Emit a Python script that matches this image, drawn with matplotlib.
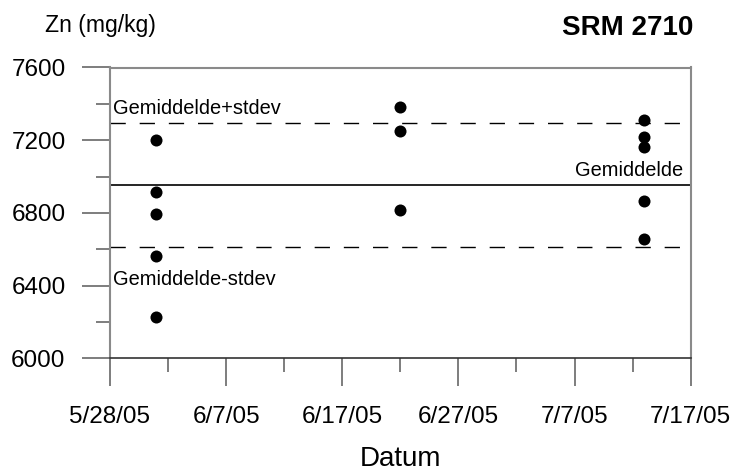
import matplotlib
matplotlib.use("Agg")
import matplotlib.pyplot as plt
from matplotlib.ticker import MultipleLocator
import datetime as dt

plt.rcParams['font.family'] = ['Liberation Sans', 'DejaVu Sans']

# Data
dates = ["2005-06-01"] * 5 + ["2005-06-22"] * 3 + ["2005-07-13"] * 5
zn = [7200, 6917, 6792, 6565, 6229,
      7384, 7251, 6816,
      7311, 7216, 7164, 6867, 6656]
mean_val = 6952
stdev_val = 341
x_start, x_end = "2005-05-28", "2005-07-17"
y_min, y_max = 6000, 7600

to_dt = lambda s: dt.datetime.strptime(s, "%Y-%m-%d")
xd = [to_dt(d) for d in dates]
x0, x1 = to_dt(x_start), to_dt(x_end)

fig = plt.figure(figsize=(7.34, 4.72), dpi=100)
ax = fig.add_axes([110 / 734, 1 - 358.3 / 472, 580.7 / 734, 290.8 / 472])

ax.scatter(xd, zn, s=75, color='black', zorder=3, linewidths=0)
ax.axhline(mean_val, color='black', lw=1.2)
ax.axhline(mean_val + stdev_val, color='black', lw=1.0, ls=(0, (11, 10)))
ax.axhline(mean_val - stdev_val, color='black', lw=1.0, ls=(0, (11, 10)))

ax.set_xlim(x0, x1)
ax.set_ylim(y_min, y_max)

major_dates = [x0 + dt.timedelta(days=10 * i) for i in range(6)]
ax.set_xticks(major_dates)
ax.set_xticklabels([f"{d.month}/{d.day}/{d.strftime('%y')}" for d in major_dates])
ax.set_xticks([x0 + dt.timedelta(days=5 + 10 * i) for i in range(5)], minor=True)
ax.yaxis.set_major_locator(MultipleLocator(400))
ax.yaxis.set_minor_locator(MultipleLocator(200))

gray = '#8a8a8a'
for k in ['left', 'right', 'top']:
    ax.spines[k].set_color(gray)
    ax.spines[k].set_linewidth(1.5)
ax.spines['bottom'].set_color('#333333')
ax.spines['bottom'].set_linewidth(1.2)

tick_col = '#5a5a5a'
ax.tick_params(which='major', direction='out', length=20.5, width=1.1, color=tick_col,
               labelsize=17.5, top=False, right=False)
ax.tick_params(which='minor', direction='out', length=10, width=1.1, color=tick_col,
               top=False, right=False)
ax.tick_params(axis='y', which='major', pad=11.5)
ax.tick_params(axis='x', which='major', pad=14)

ax.set_xlabel("Datum", fontsize=20, labelpad=13)

ann = 14.4
ax.text(x0 + dt.timedelta(days=0.23), 7344, "Gemiddelde+stdev",
        fontsize=ann, ha='left', va='baseline')
ax.text(x0 + dt.timedelta(days=0.23), 6403, "Gemiddelde-stdev",
        fontsize=ann, ha='left', va='baseline')
ax.text(x1 - dt.timedelta(days=0.66), 7005, "Gemiddelde",
        fontsize=ann, ha='right', va='baseline')

fig.text(45 / 734, 1 - 32 / 472, "Zn (mg/kg)", fontsize=16.6, ha='left', va='baseline')
fig.text(693 / 734, 1 - 35 / 472, "SRM 2710", fontsize=20, fontweight='bold',
         ha='right', va='baseline')

fig.savefig("out.png", dpi=100)
